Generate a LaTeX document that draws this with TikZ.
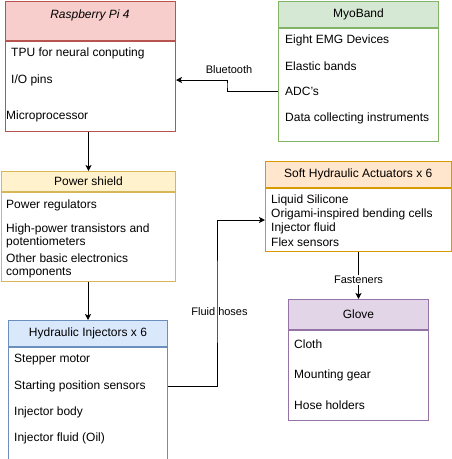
\documentclass[tikz,border=0pt]{standalone}
\usepackage{fontspec}
\setmainfont{Liberation Sans}
\usetikzlibrary{arrows.meta}

\definecolor{rpiline}{HTML}{B85450}
\definecolor{rpifill}{HTML}{F8CECC}
\definecolor{myoline}{HTML}{82B366}
\definecolor{myofill}{HTML}{D5E8D4}
\definecolor{pwrline}{HTML}{D6B656}
\definecolor{pwrfill}{HTML}{FFF2CC}
\definecolor{injline}{HTML}{6C8EBF}
\definecolor{injfill}{HTML}{DAE8FC}
\definecolor{softline}{HTML}{D79B00}
\definecolor{softfill}{HTML}{FFE6CC}
\definecolor{gloveline}{HTML}{9673A6}
\definecolor{glovefill}{HTML}{E1D5E7}

\tikzset{
  head/.style 2 args={draw=#1,fill=#2,line width=1pt,anchor=north west,inner sep=0pt,
    font=\fontsize{12}{14}\selectfont},
  body/.style={draw=#1,fill=white,line width=1pt,anchor=north west,inner sep=0pt},
  item/.style={anchor=west,inner sep=0pt,align=left,font=\fontsize{12}{13}\selectfont},
  lbl/.style={inner sep=1pt,font=\fontsize{11}{13}\selectfont},
  conn/.style={line width=1pt,-{Stealth[length=6pt,width=6pt,inset=1.5pt]}}
}

\begin{document}
\begin{tikzpicture}[x=1pt,y=-1pt]
  \useasboundingbox (0,0) rectangle (451,459);

  % Raspberry Pi
  \node[head={rpiline}{rpifill},minimum width=170pt,minimum height=39.5pt] (rpi) at (5,0.5) {};
  \node[body=rpiline,minimum width=170pt,minimum height=90pt] (rpibody) at (rpi.south west) {};
  \node[lbl,font=\fontsize{12}{14}\selectfont\itshape] (rpititle) at (90,15) {Raspberry Pi 4};
  \node[item] (tpu) at (11,53) {TPU for neural conputing};
  \node[item] (io) at (11,80) {I/O pins};
  \node[item] (cpu) at (6,116) {Microprocessor};

  % MyoBand
  \node[head={myoline}{myofill},minimum width=160pt,minimum height=26pt] (myo) at (278,0.5) {MyoBand};
  \node[body=myoline,minimum width=160pt,minimum height=113.5pt] (myobody) at (myo.south west) {};
  \node[item] (emg) at (285,40) {Eight EMG Devices};
  \node[item] (bands) at (285,66) {Elastic bands};
  \node[item] (adc) at (285,91.5) {ADC's};
  \node[item] (dci) at (285,118) {Data collecting instruments};

  % Power shield
  \node[head={pwrline}{pwrfill},minimum width=174pt,minimum height=20pt] (pwr) at (1,171) {Power shield};
  \node[body=pwrline,minimum width=174pt,minimum height=89pt] (pwrbody) at (pwr.south west) {};
  \node[item] (reg) at (6,205.7) {Power regulators};
  \node[item] (trans) at (6,235.5) {High-power transistors and\\potentiometers};
  \node[item] (other) at (6,265.5) {Other basic electronics\\components};

  % Hydraulic injectors
  \node[head={injline}{injfill},minimum width=159pt,minimum height=26pt] (inj) at (8,320) {Hydraulic Injectors x 6};
  \node[body=injline,minimum width=159pt,minimum height=112pt] (injbody) at (inj.south west) {};
  \node[item] (stepper) at (14,360) {Stepper motor};
  \node[item] (startpos) at (14,386) {Starting position sensors};
  \node[item] (injbody1) at (14,412) {Injector body};
  \node[item] (oil) at (14,438) {Injector fluid (Oil)};

  % Soft actuators
  \node[head={softline}{softfill},minimum width=185.5pt,minimum height=26pt] (soft) at (265,161) {Soft Hydraulic Actuators x 6};
  \node[body=softline,minimum width=185.5pt,minimum height=63pt] (softbody) at (soft.south west) {};
  \node[item,font=\fontsize{12}{14.2}\selectfont] (softitems) at (271,220.5)
    {Liquid Silicone\\Origami-inspired bending cells\\Injector fluid\\Flex sensors};

  % Glove
  \node[head={gloveline}{glovefill},minimum width=140pt,minimum height=30pt] (glove) at (288,299) {Glove};
  \node[body=gloveline,minimum width=140pt,minimum height=90pt] (glovebody) at (glove.south west) {};
  \node[item] (cloth) at (294,344) {Cloth};
  \node[item] (mount) at (294,375) {Mounting gear};
  \node[item] (holders) at (294,405) {Hose holders};

  % connectors
  \coordinate (bt) at (227,85);
  \draw[conn] (myobody.west |- adc) -| (bt) |- (rpibody.east |- io);
  \node[lbl] (btlabel) at (229,70) {Bluetooth};

  \draw[conn] (pwr.north |- rpibody.south) -- (pwr.north);
  \draw[conn] (inj.north |- pwrbody.south) -- (inj.north);

  \coordinate (hose) at (217,300);
  \draw[conn] (injbody.east |- startpos) -| (hose) |- (softbody.west);
  \node[lbl] (hoselabel) at (219.5,312) {Fluid hoses};

  \draw[conn] (glove.north |- softbody.south) -- (glove.north)
    node[lbl,fill=white,pos=0.6] (fastlabel) {Fasteners};
\end{tikzpicture}
\end{document}
